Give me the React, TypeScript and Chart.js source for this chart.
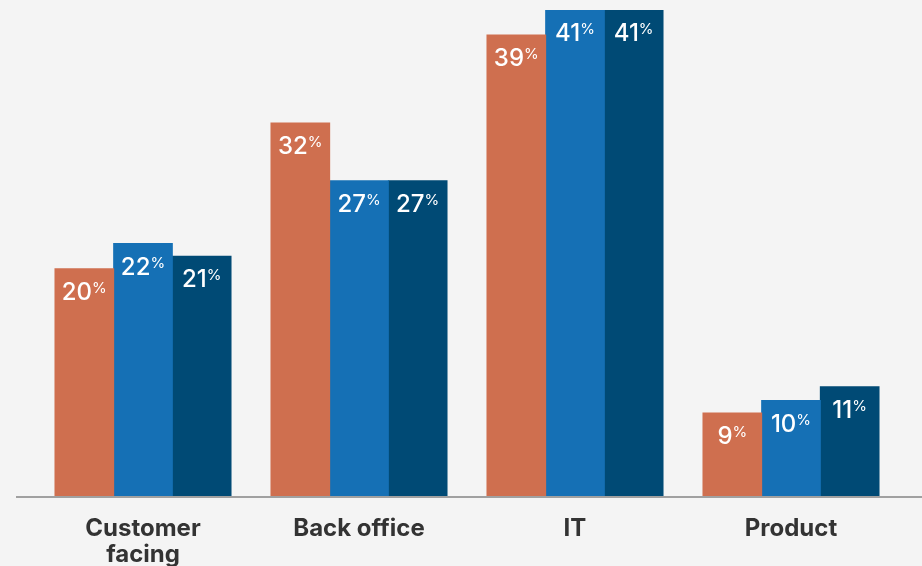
import React, { useEffect, useRef } from "react";
import { Chart, registerables } from "chart.js";

Chart.register(...registerables);

const categories: (string | string[])[] = [["Customer", "facing"], "Back office", "IT", "Product"];
const seriesA = [20.4, 32.0, 39.0, 8.9];
const seriesB = [22.4, 27.4, 41.0, 9.9];
const seriesC = [21.4, 27.4, 41.0, 11.0];
const colors = ["#cf6f4f", "#1570b5", "#004a75"];

const valueLabelPlugin = {
  id: "valueLabels",
  afterDatasetsDraw(chart: any) {
    const ctx = chart.ctx;
    ctx.save();
    chart.data.datasets.forEach((ds: any, di: number) => {
      const meta = chart.getDatasetMeta(di);
      meta.data.forEach((bar: any, i: number) => {
        const v = ds.data[i];
        const num = String(Math.round(v));
        ctx.font = "500 24px Inter";
        const wNum = ctx.measureText(num).width;
        ctx.font = "400 15px Inter";
        const wPct = ctx.measureText("%").width;
        const gap = 0;
        const total = wNum + gap + wPct;
        const sx = bar.x - total / 2;
        ctx.fillStyle = "#ffffff";
        ctx.textAlign = "left";
        ctx.textBaseline = "alphabetic";
        ctx.font = "500 24px Inter";
        ctx.fillText(num, sx, bar.y + 31);
        ctx.font = "400 15px Inter";
        ctx.fillText("%", sx + wNum + gap, bar.y + 24);
      });
    });
    ctx.restore();
  },
};

const axisLinePlugin = {
  id: "axisLine",
  beforeDatasetsDraw(chart: any) {
    const ctx = chart.ctx;
    const y = chart.chartArea.bottom + 1;
    ctx.save();
    ctx.strokeStyle = "#a0a0a0";
    ctx.lineWidth = 2;
    ctx.beginPath();
    ctx.moveTo(16, y);
    ctx.lineTo(chart.width, y);
    ctx.stroke();
    ctx.restore();
  },
};

export default function App() {
  const ref = useRef<HTMLCanvasElement | null>(null);
  useEffect(() => {
    if (!ref.current) return;
    const common = { categoryPercentage: 0.815, barPercentage: 1, borderWidth: 0, inflateAmount: 0.5 };
    const chart = new Chart(ref.current, {
      type: "bar",
      data: {
        labels: categories,
        datasets: [
          { label: "A", data: seriesA, backgroundColor: colors[0], ...common },
          { label: "B", data: seriesB, backgroundColor: colors[1], ...common },
          { label: "C", data: seriesC, backgroundColor: colors[2], ...common },
        ],
      },
      options: {
        animation: false,
        responsive: false,
        maintainAspectRatio: false,
        layout: { padding: { left: 35, right: 23, top: 10, bottom: 0 } },
        plugins: { legend: { display: false }, tooltip: { enabled: false } },
        scales: {
          x: {
            grid: { display: false, drawTicks: false },
            border: { display: false },
            ticks: {
              color: "#333333",
              font: { family: "Inter", weight: "bold", size: 24, lineHeight: 1.07 },
              padding: 20,
              maxRotation: 0,
              autoSkip: false,
            },
            afterFit: (scale: any) => {
              scale.height = 70;
            },
          } as any,
          y: {
            display: false,
            min: 2.3,
            max: 41,
          },
        },
      },
      plugins: [axisLinePlugin, valueLabelPlugin],
    });
    return () => chart.destroy();
  }, []);
  return (
    <div style={{ position: "fixed", left: 0, top: 0, width: 922, height: 566, background: "#f4f4f4" }}>
      <canvas ref={ref} width={922} height={566} style={{ width: 922, height: 566, display: "block" }} />
    </div>
  );
}
